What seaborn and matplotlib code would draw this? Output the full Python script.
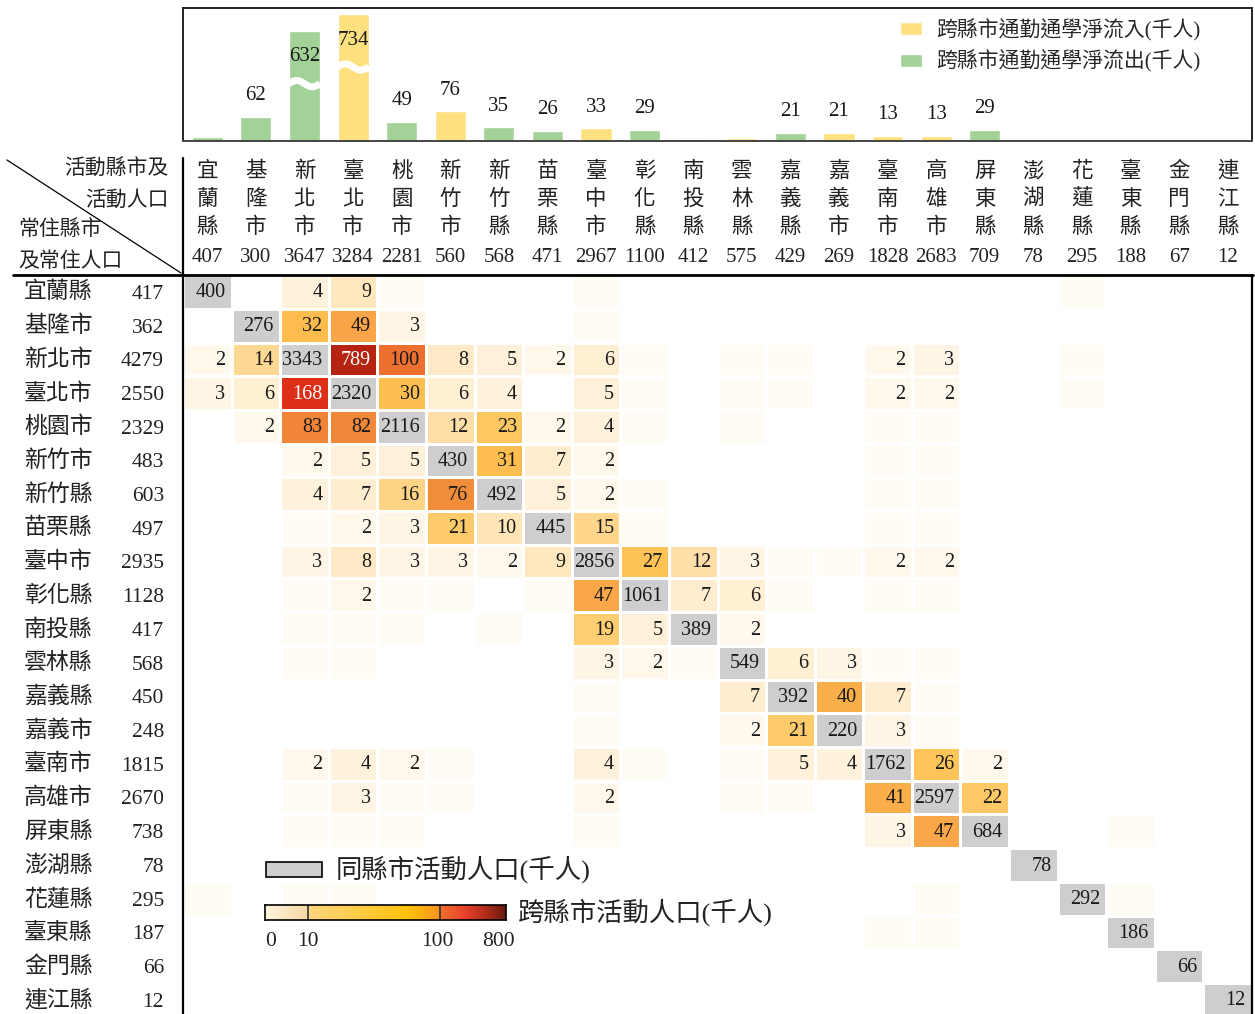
import numpy as np
import pandas as pd
import matplotlib
matplotlib.use("Agg")
import matplotlib.pyplot as plt
import seaborn as sns
from matplotlib.colors import LinearSegmentedColormap, ListedColormap, FuncNorm
from matplotlib.patches import Rectangle, Patch
from matplotlib.lines import Line2D
import matplotlib.transforms as mtrans

# ---------------- data ----------------
counties = ["宜蘭縣", "基隆市", "新北市", "臺北市", "桃園市", "新竹市", "新竹縣", "苗栗縣",
            "臺中市", "彰化縣", "南投縣", "雲林縣", "嘉義縣", "嘉義市", "臺南市", "高雄市",
            "屏東縣", "澎湖縣", "花蓮縣", "臺東縣", "金門縣", "連江縣"]
activity_pop = [407, 300, 3647, 3284, 2281, 560, 568, 471, 2967, 1100, 412, 575, 429, 269,
                1828, 2683, 709, 78, 295, 188, 67, 12]
resident_pop = [417, 362, 4279, 2550, 2329, 483, 603, 497, 2935, 1128, 417, 568, 450, 248,
                1815, 2670, 738, 78, 295, 187, 66, 12]
# net cross-county commuting flow (+ inflow, - outflow), thousand persons
net_flow = [-10, -62, -632, 734, -49, 76, -35, -26, 33, -29, -5, 7, -21, 21, 13, 13, -29,
            3, -3, 3, 3, 3]

# rows: county of residence, columns: county of activity (0 = none)
flow_rows = [
    [400, 0, 4, 9, 1, 0, 0, 0, 1, 0, 0, 0, 0, 0, 0, 0, 0, 0, 1, 0, 0, 0],
    [0, 276, 32, 49, 3, 0, 0, 0, 1, 0, 0, 0, 0, 0, 0, 0, 0, 0, 0, 0, 0, 0],
    [2, 14, 3343, 789, 100, 8, 5, 2, 6, 1, 0, 1, 1, 0, 2, 3, 0, 0, 1, 0, 0, 0],
    [3, 6, 168, 2320, 30, 6, 4, 0, 5, 1, 0, 1, 1, 0, 2, 2, 0, 0, 1, 0, 0, 0],
    [0, 2, 83, 82, 2116, 12, 23, 2, 4, 1, 0, 1, 0, 0, 1, 1, 0, 0, 0, 0, 0, 0],
    [0, 0, 2, 5, 5, 430, 31, 7, 2, 0, 0, 0, 0, 0, 1, 1, 0, 0, 0, 0, 0, 0],
    [0, 0, 4, 7, 16, 76, 492, 5, 2, 1, 0, 0, 0, 0, 1, 1, 0, 0, 0, 0, 0, 0],
    [0, 0, 1, 2, 3, 21, 10, 445, 15, 1, 0, 0, 0, 0, 1, 1, 0, 0, 0, 0, 0, 0],
    [0, 0, 3, 8, 3, 3, 2, 9, 2856, 27, 12, 3, 1, 1, 2, 2, 0, 0, 0, 0, 0, 0],
    [0, 0, 1, 2, 1, 1, 0, 1, 47, 1061, 7, 6, 1, 0, 1, 1, 0, 0, 0, 0, 0, 0],
    [0, 0, 1, 1, 1, 0, 1, 0, 19, 5, 389, 2, 0, 0, 0, 0, 0, 0, 0, 0, 0, 0],
    [0, 0, 1, 1, 0, 0, 0, 0, 3, 2, 1, 549, 6, 3, 1, 1, 0, 0, 0, 0, 0, 0],
    [0, 0, 0, 0, 0, 0, 0, 0, 1, 0, 0, 7, 392, 40, 7, 1, 0, 0, 0, 0, 0, 0],
    [0, 0, 0, 0, 0, 0, 0, 0, 1, 0, 0, 2, 21, 220, 3, 1, 0, 0, 0, 0, 0, 0],
    [0, 0, 2, 4, 2, 1, 0, 0, 4, 1, 0, 1, 5, 4, 1762, 26, 2, 0, 0, 0, 0, 0],
    [0, 0, 1, 3, 1, 1, 0, 0, 2, 0, 0, 1, 1, 0, 41, 2597, 22, 0, 0, 0, 0, 0],
    [0, 0, 1, 1, 1, 0, 0, 0, 1, 0, 0, 0, 0, 0, 3, 47, 684, 0, 0, 1, 0, 0],
    [0, 0, 0, 0, 0, 0, 0, 0, 0, 0, 0, 0, 0, 0, 0, 0, 0, 78, 0, 0, 0, 0],
    [1, 0, 1, 1, 0, 0, 0, 0, 0, 0, 0, 0, 0, 0, 0, 1, 0, 0, 292, 1, 0, 0],
    [0, 0, 0, 0, 0, 0, 0, 0, 0, 0, 0, 0, 0, 0, 1, 1, 0, 0, 0, 186, 0, 0],
    [0, 0, 0, 0, 0, 0, 0, 0, 0, 0, 0, 0, 0, 0, 0, 0, 0, 0, 0, 0, 66, 0],
    [0, 0, 0, 0, 0, 0, 0, 0, 0, 0, 0, 0, 0, 0, 0, 0, 0, 0, 0, 0, 0, 12],
]
colorbar_ticks = [0, 10, 100, 800]

legend_in = "跨縣市通勤通學淨流入(千人)"
legend_out = "跨縣市通勤通學淨流出(千人)"
legend_same = "同縣市活動人口(千人)"
legend_cross = "跨縣市活動人口(千人)"
corner_texts = ["活動縣市及", "活動人口", "常住縣市", "及常住人口"]

# ---------------- style ----------------
YEL = "#FFE07E"
GRN = "#A2D297"
GRAY = "#CFCDD0"
CJK = ["Noto Sans CJK TC", "DejaVu Sans"]
MIX = ["Liberation Serif", "Noto Sans CJK TC"]
NUM = "Liberation Serif"

sns.set_theme(style="white")
plt.rcParams["font.family"] = MIX

W, H = 1255, 1014
fig = plt.figure(figsize=(W / 100, H / 100), dpi=100)


def fx(px):
    return px / W


def fy(py):
    return 1 - py / H


# piecewise colour scale: 0-10, 10-100, 100-800
def fwd(v):
    v = np.asarray(v, dtype=float)
    s1 = 0.178 * np.clip(v, 0, 10) / 10
    s2 = 0.548 * np.log10(np.clip(v, 10, 100) / 10)
    s3 = 0.274 * np.log(np.clip(v, 100, 800) / 100) / np.log(8)
    return s1 + s2 + s3


def inv(p):
    p = np.asarray(p, dtype=float)
    return np.where(p < 0.178, p / 0.178 * 10,
                    np.where(p < 0.726, 10 * 10 ** ((p - 0.178) / 0.548),
                             100 * 8 ** ((p - 0.726) / 0.274)))


norm = FuncNorm((fwd, inv), vmin=0, vmax=800)
cell_nodes = [(0, "#FFFDF9"), (1, "#FFFCF6"), (2, "#FFF8EC"), (4, "#FFF2DD"), (7, "#FFEDCE"),
              (9, "#FFE7BE"), (12, "#FFDFA6"), (15, "#FFD68B"), (21, "#FFCA68"), (30, "#FFBF50"),
              (47, "#F9A748"), (80, "#F08A3A"), (100, "#EE7030"), (168, "#DD2E18"),
              (400, "#C82814"), (800, "#B52410")]
cell_cmap = LinearSegmentedColormap.from_list(
    "cells", [(float(fwd(v)), c) for v, c in cell_nodes])

cbar_cmap = LinearSegmentedColormap.from_list("cbar", [
    (0.0, "#FFF5DC"), (0.177, "#F8D7A4"), (0.179, "#FFD680"), (0.60, "#FFC20A"),
    (0.725, "#F7931E"), (0.727, "#F2702B"), (0.83, "#E8432B"), (0.92, "#B02C1A"),
    (1.0, "#6A1A10")])

# ---------------- heatmap ----------------
n = len(counties)
flow = np.array(flow_rows, dtype=float)
eye = np.eye(n, dtype=bool)
empty = flow == 0
df = pd.DataFrame(flow, index=counties, columns=counties)
# empty and diagonal cells become NaN for the cross-county layer (left blank)
cross_df = df.where(~(eye | empty))
row_top, row_h = 275.1, 33.71
axh = fig.add_axes([fx(183), fy(row_top + n * row_h), fx(1252) - fx(183), n * row_h / H])
sns.heatmap(cross_df, mask=eye | empty, cmap=cell_cmap, norm=norm, cbar=False,
            linewidths=2, linecolor="white", xticklabels=False, yticklabels=False, ax=axh)
sns.heatmap(df, mask=~eye, cmap=ListedColormap([GRAY]), cbar=False,
            linewidths=2, linecolor="white", xticklabels=False, yticklabels=False, ax=axh)
axh.set_xlabel("")
axh.set_ylabel("")
for s in axh.spines.values():
    s.set_visible(False)

for r in range(n):
    for c in range(n):
        v = flow[r, c]
        if v >= 2:
            col = "white" if (r != c and v >= 150) else "#1a1a1a"
            axh.text(c + 0.87, r + 0.53, f"{int(v)}", ha="right", va="center",
                     fontsize=14.5, family=NUM, color=col)

# column headers
tcol = mtrans.blended_transform_factory(axh.transData, fig.transFigure)
for c, name in enumerate(counties):
    for k, ch in enumerate(name):
        fig.text(c + 0.5, fy([171, 199, 227][k]), ch, transform=tcol, ha="center",
                 va="center", fontsize=15.5, family=CJK, color="#222222")
    fig.text(c + 0.5, fy(258), f"{activity_pop[c]}", transform=tcol, ha="center",
             va="center", fontsize=15, family=NUM, color="#222222")

# row headers
trow = mtrans.blended_transform_factory(fig.transFigure, axh.transData)
for r, name in enumerate(counties):
    fig.text(fx(24), r + 0.5, name, transform=trow, ha="left", va="center",
             fontsize=16.5, family=CJK, color="#222222")
    fig.text(fx(164), r + 0.57, f"{resident_pop[r]}", transform=trow, ha="right",
             va="center", fontsize=15.5, family=NUM, color="#222222")

# corner header
fig.text(fx(169), fy(169), corner_texts[0], ha="right", va="center", fontsize=15, family=CJK, color="#222222")
fig.text(fx(169), fy(200), corner_texts[1], ha="right", va="center", fontsize=15, family=CJK, color="#222222")
fig.text(fx(18), fy(229), corner_texts[2], ha="left", va="center", fontsize=15, family=CJK, color="#222222")
fig.text(fx(18), fy(261), corner_texts[3], ha="left", va="center", fontsize=15, family=CJK, color="#222222")

# frame lines
fig.add_artist(Line2D([fx(7), fx(181)], [fy(160), fy(273)], color="black", lw=0.9))
fig.add_artist(Line2D([fx(13), fx(1253)], [fy(275), fy(275)], color="black", lw=2.0))
fig.add_artist(Line2D([fx(183), fx(183)], [fy(158), fy(1014)], color="black", lw=1.6))
fig.add_artist(Line2D([fx(1252), fx(1252)], [fy(275), fy(1014)], color="black", lw=1.6))

# ---------------- top bar chart ----------------
def display_height(v):
    a = abs(v)
    return a if a < 300 else 282 + (a - 632) * 0.42


axb = fig.add_axes([fx(183), fy(141), fx(1252) - fx(183), 133 / H])
bdf = pd.DataFrame({"county": counties,
                    "h": [display_height(v) for v in net_flow],
                    "kind": ["in" if v > 0 else "out" for v in net_flow]})
sns.barplot(data=bdf, x="county", y="h", hue="kind", order=counties, hue_order=["in", "out"],
            palette={"in": YEL, "out": GRN}, dodge=False, width=0.64, saturation=1,
            legend=False, ax=axb)
axb.set_xlim(-0.5, n - 0.5)
axb.set_ylim(0, 341)
axb.set_xticks([])
axb.set_yticks([])
axb.set_xlabel("")
axb.set_ylabel("")
for side, s in axb.spines.items():
    s.set_visible(True)
    s.set_color("#222222" if side != "bottom" else "#444444")
    s.set_linewidth(1.4)

for i, v in enumerate(net_flow):
    h = display_height(v)
    a = abs(v)
    if a >= 300:
        xs = np.linspace(i - 0.32, i + 0.32, 60)
        ys = (h - 135) + 8 * np.sin(2 * np.pi * (xs - (i - 0.32)) / 0.64)
        axb.plot(xs, ys, color="white", lw=5, solid_capstyle="butt")
        axb.text(i, h - 66, f"{int(a)}", ha="center", va="center", fontsize=15,
                 family=NUM, color="#1a1a1a")
    elif a >= 12:
        axb.text(i, h + 54, f"{int(a)}", ha="center", va="center", fontsize=15,
                 family=NUM, color="#1a1a1a")

axb.legend(handles=[Patch(facecolor=YEL, label=legend_in), Patch(facecolor=GRN, label=legend_out)],
           loc="upper left", bbox_to_anchor=((900 - 183) / 1069, 0.92), frameon=False,
           borderpad=0, borderaxespad=0, handlelength=1.05, handleheight=0.6,
           handletextpad=0.7, labelspacing=0.45, prop={"family": MIX, "size": 15})

# ---------------- lower legends ----------------
fig.add_artist(Rectangle((fx(266), fy(877)), (322 - 266) / W, 15 / H, transform=fig.transFigure,
                         facecolor=GRAY, edgecolor="black", lw=1.2))
fig.text(fx(336), fy(869), legend_same, ha="left", va="center", fontsize=19, family=MIX, color="#222222")

cax = fig.add_axes([fx(265), fy(920), (506 - 265) / W, 15 / H])
grad = np.linspace(0, 1, 512)[None, :]
cax.imshow(grad, aspect="auto", cmap=cbar_cmap, extent=[0, 1, 0, 1], interpolation="bilinear")
cax.set_xlim(0, 1)
cax.set_ylim(0, 1)
cax.set_xticks([])
cax.set_yticks([])
for s in cax.spines.values():
    s.set_color("black")
    s.set_linewidth(1.2)
for t in colorbar_ticks[1:-1]:
    cax.axvline(float(fwd(t)), color="#333333", lw=1.2)
tcb = mtrans.blended_transform_factory(cax.transData, fig.transFigure)
tick_pos = [(0.0, "left"), (float(fwd(10)), "center"), (float(fwd(100)) - 0.012, "center"), (0.97, "center")]
for t, (p, ha) in zip(colorbar_ticks, tick_pos):
    fig.text(p, fy(941), f"{t}", transform=tcb, ha=ha, va="center", fontsize=15.5,
             family=NUM, color="#222222")
fig.text(fx(518), fy(912), legend_cross, ha="left", va="center", fontsize=19, family=MIX, color="#222222")

fig.savefig("out.png", dpi=100)
